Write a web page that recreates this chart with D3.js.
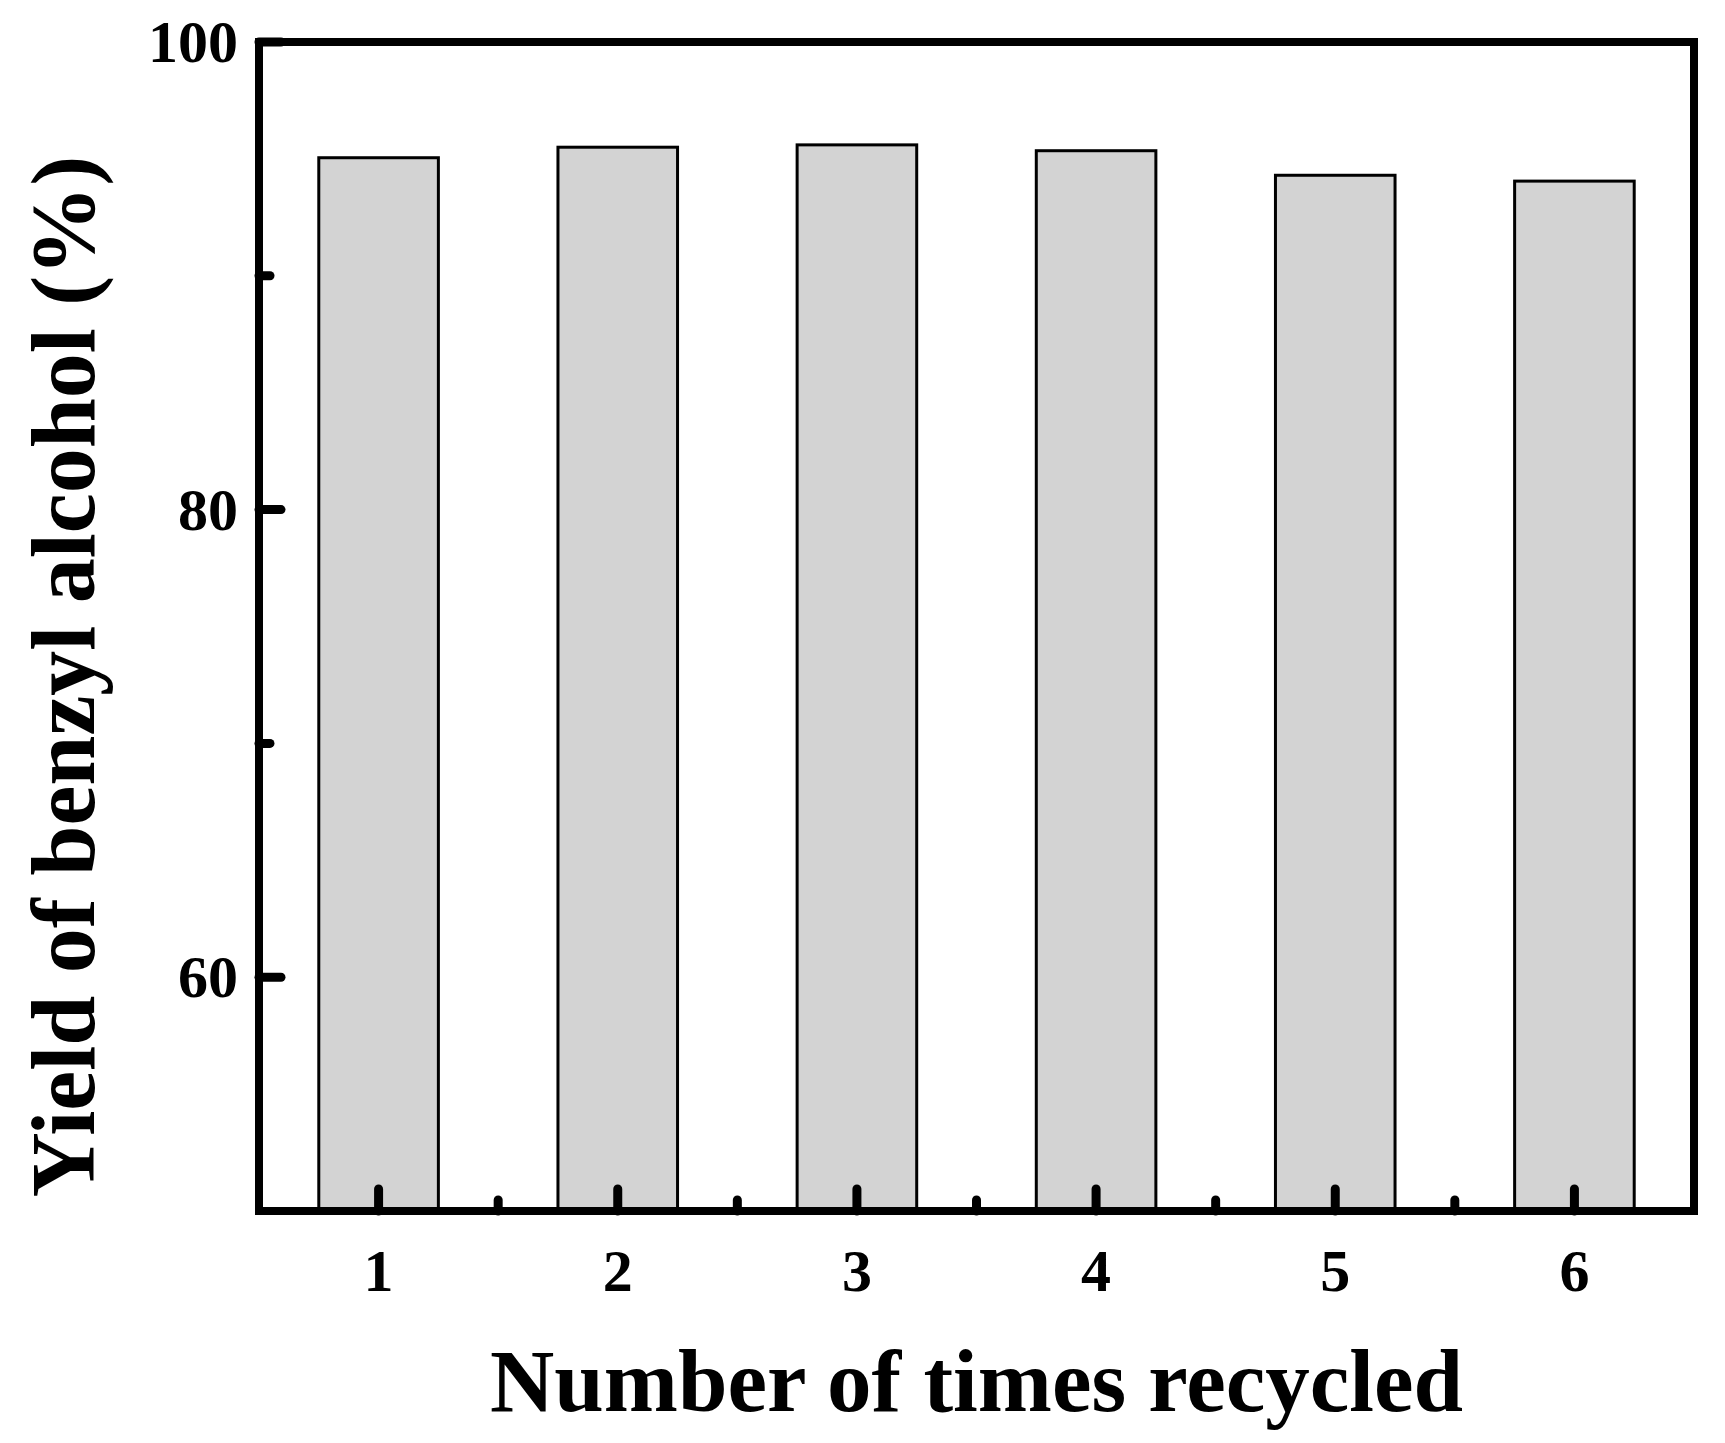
<!DOCTYPE html>
<html>
<head>
<meta charset="utf-8">
<script src="https://cdn.jsdelivr.net/npm/d3@7"></script>
<style>
  body { margin: 0; background: #fff; }
  text { font-family: "Liberation Serif", "Times New Roman", serif; font-weight: bold; fill: #000; }
</style>
</head>
<body>
<div id="chart"></div>
<script>
// data
var cycles = [1, 2, 3, 4, 5, 6];
var yields = [95.05, 95.5, 95.6, 95.35, 94.3, 94.05];
var yTicks = [60, 80, 100];
var yMinor = [70, 90];
var xMinor = [1.5, 2.5, 3.5, 4.5, 5.5];

var W = 1725, H = 1443;
var margin = {top: 42, right: 31, bottom: 232, left: 259},
    width = W - margin.left - margin.right,
    height = H - margin.top - margin.bottom;

var x = d3.scaleLinear().domain([0.5, 6.5]).range([0, width]);
var y = d3.scaleLinear().domain([50, 100]).range([height, 0]);

var svg = d3.select("#chart").append("svg")
    .attr("width", W).attr("height", H)
  .append("g")
    .attr("transform", "translate(" + margin.left + "," + margin.top + ")");

// bars
svg.selectAll("rect.bar")
    .data(cycles)
  .enter().append("rect")
    .attr("class", "bar")
    .attr("x", function(d) { return x(d - 0.25); })
    .attr("width", x(1.25) - x(0.75))
    .attr("y", function(d, i) { return y(yields[i]); })
    .attr("height", function(d, i) { return height - y(yields[i]); })
    .attr("fill", "#d3d3d3")
    .attr("stroke", "#000")
    .attr("stroke-width", 3);

// inward ticks
function tick(x1, y1, x2, y2) {
  svg.append("line")
    .attr("x1", x1).attr("y1", y1).attr("x2", x2).attr("y2", y2)
    .attr("stroke", "#000").attr("stroke-width", 9).attr("stroke-linecap", "round");
}
cycles.forEach(function(d) { tick(x(d), height, x(d), height - 22); });
xMinor.forEach(function(d) { tick(x(d), height, x(d), height - 11); });
yTicks.forEach(function(d) { tick(0, y(d), 22, y(d)); });
yMinor.forEach(function(d) { tick(0, y(d), 11, y(d)); });

// frame
svg.append("rect")
    .attr("width", width).attr("height", height)
    .attr("fill", "none").attr("stroke", "#000").attr("stroke-width", 8);

// tick labels
svg.selectAll("text.xl")
    .data(cycles)
  .enter().append("text")
    .attr("x", function(d) { return x(d); })
    .attr("y", height + 80)
    .attr("text-anchor", "middle")
    .attr("font-size", 60)
    .text(function(d) { return d; });

svg.selectAll("text.yl")
    .data(yTicks)
  .enter().append("text")
    .attr("x", -21)
    .attr("y", function(d) { return y(d) + 20; })
    .attr("text-anchor", "end")
    .attr("font-size", 60)
    .text(function(d) { return d; });

// axis titles
svg.append("text")
    .attr("x", width / 2)
    .attr("y", height + 200)
    .attr("text-anchor", "middle")
    .attr("font-size", 89)
    .text("Number of times recycled");

svg.append("text")
    .attr("transform", "translate(" + (-165) + "," + (height / 2 + 50) + ") rotate(-90)")
    .attr("text-anchor", "middle")
    .attr("font-size", 90)
    .text("Yield of benzyl alcohol (%)");
</script>
</body>
</html>
